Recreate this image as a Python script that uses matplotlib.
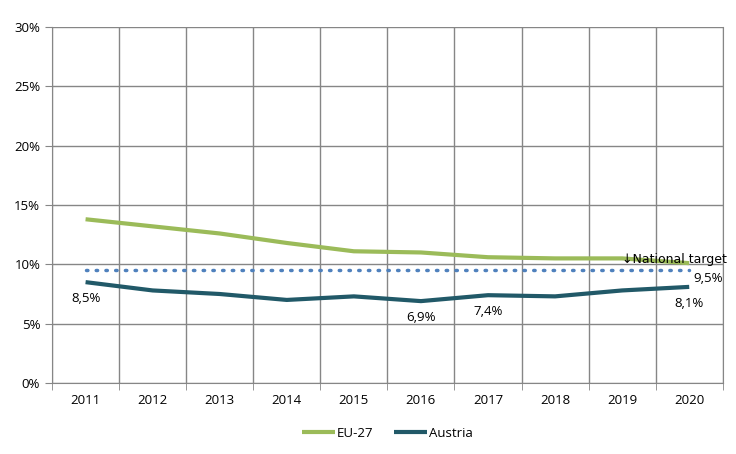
import matplotlib
matplotlib.use("Agg")
import matplotlib.pyplot as plt
import numpy as np

years = ["2011", "2012", "2013", "2014", "2015", "2016", "2017", "2018", "2019", "2020"]
eu27 = [13.8, 13.2, 12.6, 11.8, 11.1, 11.0, 10.6, 10.5, 10.5, 10.1]
austria = [8.5, 7.8, 7.5, 7.0, 7.3, 6.9, 7.4, 7.3, 7.8, 8.1]
target = 9.5
labelled = {0: "8,5%", 5: "6,9%", 6: "7,4%", 9: "8,1%"}

plt.rcParams["font.family"] = ["Open Sans", "DejaVu Sans"]

fig = plt.figure(figsize=(7.36, 4.54), dpi=100)
ax = fig.add_axes([0.0707, 0.1564, 0.9113, 0.7841])

x = np.arange(len(years))
ax.plot(x, eu27, color="#9BBB59", lw=3, label="EU-27", solid_capstyle="butt")
ax.plot(x, austria, color="#215968", lw=3, label="Austria", solid_capstyle="butt")
ax.plot(x, [target] * len(x), color="#4F81BD", lw=2.5, ls=(0, (0.4, 2.4)),
        dash_capstyle="round")

for i, txt in labelled.items():
    ax.annotate(txt, (x[i], austria[i]), xytext=(0, -7), textcoords="offset points",
                ha="center", va="top", fontsize=9.5)
ax.annotate("9,5%", (x[-1], target), xytext=(3, -1), textcoords="offset points",
            ha="left", va="top", fontsize=9.5)
ax.annotate("\u2193National target", (x[-2], target), xytext=(0, 3),
            textcoords="offset points", ha="left", va="bottom", fontsize=9,
            family=["DejaVu Sans"])

ax.set_xlim(-0.5, len(years) - 0.5)
ax.set_ylim(0, 30)
ax.set_yticks(np.arange(0, 31, 5))
ax.set_yticklabels([f"{v}%" for v in range(0, 31, 5)], fontsize=9.5)
ax.set_xticks(x)
ax.set_xticklabels(years, fontsize=9.5)
ax.set_xticks(np.arange(-0.5, len(years), 1), minor=True)
ax.tick_params(axis="x", which="major", length=0, pad=8)
ax.tick_params(axis="x", which="minor", length=5, color="#868686")
ax.tick_params(axis="y", length=5, color="#868686")
ax.grid(axis="y", color="#868686", lw=1)
ax.grid(axis="x", which="minor", color="#868686", lw=1)
ax.spines["top"].set_visible(False)
for s in ["left", "bottom", "right"]:
    ax.spines[s].set_color("#868686")

ax.legend(loc="upper center", bbox_to_anchor=(0.5, -0.09), ncol=2, frameon=False,
          fontsize=9.5, handlelength=2.5, handletextpad=0.2, columnspacing=1.5)

fig.savefig("out.png", dpi=100)
